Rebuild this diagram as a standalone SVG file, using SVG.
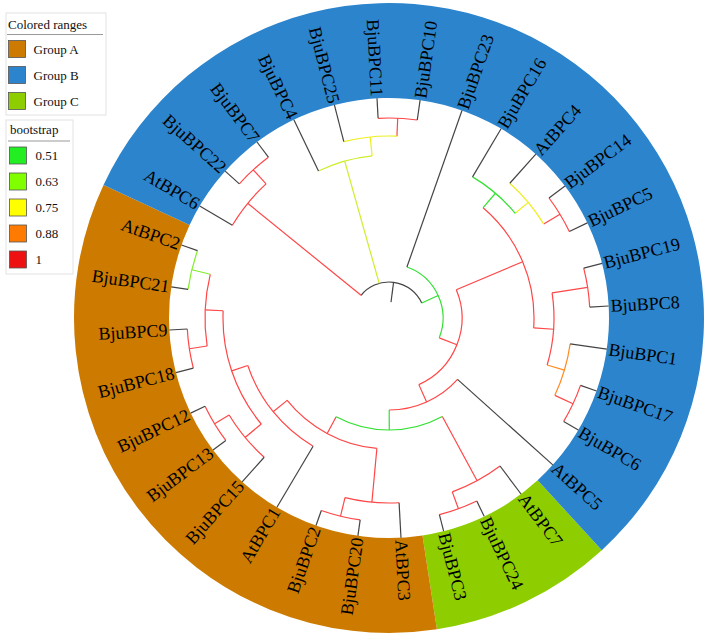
<svg xmlns="http://www.w3.org/2000/svg" width="709" height="644" viewBox="0 0 709 644">
<style>
.lbl{font-family:"Liberation Serif","Times New Roman",serif;font-size:18px;fill:#000}
.lgt{font-family:"Liberation Serif","Times New Roman",serif;font-size:13px;fill:#111}
.box{fill:#fff;stroke:#e2e2e2;stroke-width:1}
.rule{stroke:#9a9a9a;stroke-width:1}
.sw{stroke:#555;stroke-width:0.8}
#branches line,#branches path{fill:none;stroke-width:1.2}
.k{stroke:#444}
.r{stroke:#ff4646}
.o{stroke:#ff8a1f}
.y{stroke:#eeee22}
.yg{stroke:#cdee2a}
.g{stroke:#33e033}
.lg{stroke:#80ee2a}
</style>
<rect width="709" height="644" fill="#fff"/>

<g id="tree" transform="translate(389,318)">
  <!-- coloured group ranges (annulus sectors) -->
  <g id="ranges">
    <path fill="#8ece00" d="M212.811 232.242A315 315 0 0 1 47.919 311.334L33.467 217.44A220 220 0 0 0 148.63 162.201Z"/>
    <path fill="#cc7b00" d="M47.919 311.334A315 315 0 0 1 -285.487 -133.125L-199.388 -92.976A220 220 0 0 0 33.467 217.44Z"/>
    <path fill="#2b84cc" d="M-285.487 -133.125A315 315 0 1 1 212.811 232.242L148.63 162.201A220 220 0 1 0 -199.388 -92.976Z"/>
  </g>

  <g id="branches">
    <!-- root -->
    <line class="k" x1="16" x2="36" transform="rotate(277.26)"/>
    <path class="k" d="M36 0A36 36 0 0 1 -16 32.25" transform="rotate(219.06)"/>
    <!-- internal stems -->
    <line class="r" x1="36" x2="182" transform="rotate(219.06)"/>
    <line class="yg" x1="36" x2="163" transform="rotate(254.22)"/>
    <line class="g" x1="36" x2="54" transform="rotate(335.45)"/>
    <line class="r" x1="182" x2="201" transform="rotate(227.5)"/>
    <line class="y" x1="163" x2="182" transform="rotate(264.06)"/>
    <line class="r" x1="182" x2="200" transform="rotate(272.5)"/>
    <line class="r" x1="54" x2="73" transform="rotate(21.53)"/>
    <line class="r" x1="73" x2="145" transform="rotate(337.19)"/>
    <line class="r" x1="73" x2="92" transform="rotate(65.87)"/>
    <line class="g" x1="145" x2="164" transform="rotate(310.47)"/>
    <line class="y" x1="164" x2="181" transform="rotate(320.31)"/>
    <line class="r" x1="181" x2="200" transform="rotate(328.75)"/>
    <line class="r" x1="145" x2="165" transform="rotate(3.91)"/>
    <line class="r" x1="165" x2="201" transform="rotate(351.25)"/>
    <line class="o" x1="165" x2="183" transform="rotate(16.56)"/>
    <line class="r" x1="183" x2="203" transform="rotate(25)"/>
    <line class="g" x1="92" x2="112" transform="rotate(89.86)"/>
    <line class="r" x1="112" x2="185" transform="rotate(61.56)"/>
    <line class="r" x1="185" x2="203" transform="rotate(70)"/>
    <line class="r" x1="112" x2="131" transform="rotate(118.16)"/>
    <line class="r" x1="131" x2="185" transform="rotate(95.31)"/>
    <line class="r" x1="185" x2="204" transform="rotate(103.75)"/>
    <line class="r" x1="131" x2="149" transform="rotate(141.02)"/>
    <line class="r" x1="149" x2="166" transform="rotate(161.41)"/>
    <line class="r" x1="166" x2="187" transform="rotate(140.31)"/>
    <line class="r" x1="187" x2="204" transform="rotate(148.75)"/>
    <line class="r" x1="166" x2="184" transform="rotate(182.5)"/>
    <line class="r" x1="184" x2="202" transform="rotate(171.25)"/>
    <line class="lg" x1="184" x2="203" transform="rotate(193.75)"/>
    <!-- internal arcs -->
    <path class="r" d="M182 0A182 182 0 0 1 174.16 52.83" transform="rotate(210.625)"/>
    <path class="r" d="M201 0A201 201 0 0 1 197.14 39.21" transform="rotate(221.875)"/>
    <path class="yg" d="M163 0A163 163 0 0 1 153.47 54.91" transform="rotate(244.375)"/>
    <path class="y" d="M182 0A182 182 0 0 1 174.16 52.83" transform="rotate(255.625)"/>
    <path class="r" d="M200 0A200 200 0 0 1 196.16 39.02" transform="rotate(266.875)"/>
    <path class="g" d="M54 0A54 54 0 0 1 -2.03 53.96" transform="rotate(289.375)"/>
    <path class="r" d="M73 0A73 73 0 0 1 1.68 72.98" transform="rotate(337.19)"/>
    <path class="r" d="M145 0A145 145 0 0 1 86.38 116.47" transform="rotate(310.47)"/>
    <path class="g" d="M164 0A164 164 0 0 1 154.42 55.25" transform="rotate(300.625)"/>
    <path class="y" d="M181 0A181 181 0 0 1 173.21 52.54" transform="rotate(311.875)"/>
    <path class="r" d="M200 0A200 200 0 0 1 196.16 39.02" transform="rotate(323.125)"/>
    <path class="r" d="M165 0A165 165 0 0 1 149.16 70.55" transform="rotate(351.25)"/>
    <path class="r" d="M201 0A201 201 0 0 1 197.14 39.21" transform="rotate(345.625)"/>
    <path class="o" d="M183 0A183 183 0 0 1 175.12 53.12" transform="rotate(8.125)"/>
    <path class="r" d="M203 0A203 203 0 0 1 199.1 39.6" transform="rotate(19.375)"/>
    <path class="r" d="M92 0A92 92 0 0 1 61.57 68.36" transform="rotate(41.875)"/>
    <path class="g" d="M112 0A112 112 0 0 1 61.65 93.51" transform="rotate(61.5625)"/>
    <path class="r" d="M185 0A185 185 0 0 1 177.03 53.7" transform="rotate(53.125)"/>
    <path class="r" d="M203 0A203 203 0 0 1 199.1 39.6" transform="rotate(64.375)"/>
    <path class="r" d="M131 0A131 131 0 0 1 91.24 94" transform="rotate(95.3125)"/>
    <path class="r" d="M185 0A185 185 0 0 1 177.03 53.7" transform="rotate(86.875)"/>
    <path class="r" d="M204 0A204 204 0 0 1 200.08 39.8" transform="rotate(98.125)"/>
    <path class="r" d="M149 0A149 149 0 0 1 112.83 97.32" transform="rotate(120.625)"/>
    <path class="r" d="M166 0A166 166 0 0 1 123.18 111.28" transform="rotate(140.3125)"/>
    <path class="r" d="M187 0A187 187 0 0 1 178.95 54.28" transform="rotate(131.875)"/>
    <path class="r" d="M204 0A204 204 0 0 1 200.08 39.8" transform="rotate(143.125)"/>
    <path class="r" d="M184 0A184 184 0 0 1 169.99 70.41" transform="rotate(171.25)"/>
    <path class="r" d="M202 0A202 202 0 0 1 198.12 39.41" transform="rotate(165.625)"/>
    <path class="lg" d="M203 0A203 203 0 0 1 199.1 39.6" transform="rotate(188.125)"/>
    <!-- terminal branches -->
    <line class="k" x1="185" x2="220" transform="rotate(53.125)"/>
    <line class="k" x1="203" x2="220" transform="rotate(64.375)"/>
    <line class="k" x1="203" x2="220" transform="rotate(75.625)"/>
    <line class="k" x1="185" x2="220" transform="rotate(86.875)"/>
    <line class="k" x1="204" x2="220" transform="rotate(98.125)"/>
    <line class="k" x1="204" x2="220" transform="rotate(109.375)"/>
    <line class="k" x1="149" x2="220" transform="rotate(120.625)"/>
    <line class="k" x1="187" x2="220" transform="rotate(131.875)"/>
    <line class="k" x1="204" x2="220" transform="rotate(143.125)"/>
    <line class="k" x1="204" x2="220" transform="rotate(154.375)"/>
    <line class="k" x1="202" x2="220" transform="rotate(165.625)"/>
    <line class="k" x1="202" x2="220" transform="rotate(176.875)"/>
    <line class="k" x1="203" x2="220" transform="rotate(188.125)"/>
    <line class="k" x1="203" x2="220" transform="rotate(199.375)"/>
    <line class="k" x1="182" x2="220" transform="rotate(210.625)"/>
    <line class="k" x1="201" x2="220" transform="rotate(221.875)"/>
    <line class="k" x1="201" x2="220" transform="rotate(233.125)"/>
    <line class="k" x1="163" x2="220" transform="rotate(244.375)"/>
    <line class="k" x1="182" x2="220" transform="rotate(255.625)"/>
    <line class="k" x1="200" x2="220" transform="rotate(266.875)"/>
    <line class="k" x1="200" x2="220" transform="rotate(278.125)"/>
    <line class="k" x1="54" x2="220" transform="rotate(289.375)"/>
    <line class="k" x1="164" x2="220" transform="rotate(300.625)"/>
    <line class="k" x1="181" x2="220" transform="rotate(311.875)"/>
    <line class="k" x1="200" x2="220" transform="rotate(323.125)"/>
    <line class="k" x1="200" x2="220" transform="rotate(334.375)"/>
    <line class="k" x1="201" x2="220" transform="rotate(345.625)"/>
    <line class="k" x1="201" x2="220" transform="rotate(356.875)"/>
    <line class="k" x1="183" x2="220" transform="rotate(8.125)"/>
    <line class="k" x1="203" x2="220" transform="rotate(19.375)"/>
    <line class="k" x1="203" x2="220" transform="rotate(30.625)"/>
    <line class="k" x1="92" x2="220" transform="rotate(41.875)"/>
  </g>

  <!-- leaf labels -->
  <g id="AtBPC7"><text class="lbl" x="222" dy=".33em" transform="rotate(53.125)">AtBPC7</text></g>
  <g id="BjuBPC24"><text class="lbl" x="222" dy=".33em" transform="rotate(64.375)">BjuBPC24</text></g>
  <g id="BjuBPC3"><text class="lbl" x="222" dy=".33em" transform="rotate(75.625)">BjuBPC3</text></g>
  <g id="AtBPC3"><text class="lbl" x="222" dy=".33em" transform="rotate(86.875)">AtBPC3</text></g>
  <g id="BjuBPC20"><text class="lbl" x="-222" dy=".33em" text-anchor="end" transform="rotate(278.125)">BjuBPC20</text></g>
  <g id="BjuBPC2"><text class="lbl" x="-222" dy=".33em" text-anchor="end" transform="rotate(289.375)">BjuBPC2</text></g>
  <g id="AtBPC1"><text class="lbl" x="-222" dy=".33em" text-anchor="end" transform="rotate(300.625)">AtBPC1</text></g>
  <g id="BjuBPC15"><text class="lbl" x="-222" dy=".33em" text-anchor="end" transform="rotate(311.875)">BjuBPC15</text></g>
  <g id="BjuBPC13"><text class="lbl" x="-222" dy=".33em" text-anchor="end" transform="rotate(323.125)">BjuBPC13</text></g>
  <g id="BjuBPC12"><text class="lbl" x="-222" dy=".33em" text-anchor="end" transform="rotate(334.375)">BjuBPC12</text></g>
  <g id="BjuBPC18"><text class="lbl" x="-222" dy=".33em" text-anchor="end" transform="rotate(345.625)">BjuBPC18</text></g>
  <g id="BjuBPC9"><text class="lbl" x="-222" dy=".33em" text-anchor="end" transform="rotate(356.875)">BjuBPC9</text></g>
  <g id="BjuBPC21"><text class="lbl" x="-222" dy=".33em" text-anchor="end" transform="rotate(8.125)">BjuBPC21</text></g>
  <g id="AtBPC2"><text class="lbl" x="-222" dy=".33em" text-anchor="end" transform="rotate(19.375)">AtBPC2</text></g>
  <g id="AtBPC6"><text class="lbl" x="-222" dy=".33em" text-anchor="end" transform="rotate(30.625)">AtBPC6</text></g>
  <g id="BjuBPC22"><text class="lbl" x="-222" dy=".33em" text-anchor="end" transform="rotate(41.875)">BjuBPC22</text></g>
  <g id="BjuBPC7"><text class="lbl" x="-222" dy=".33em" text-anchor="end" transform="rotate(53.125)">BjuBPC7</text></g>
  <g id="BjuBPC4"><text class="lbl" x="-222" dy=".33em" text-anchor="end" transform="rotate(64.375)">BjuBPC4</text></g>
  <g id="BjuBPC25"><text class="lbl" x="-222" dy=".33em" text-anchor="end" transform="rotate(75.625)">BjuBPC25</text></g>
  <g id="BjuBPC11"><text class="lbl" x="-222" dy=".33em" text-anchor="end" transform="rotate(86.875)">BjuBPC11</text></g>
  <g id="BjuBPC10"><text class="lbl" x="222" dy=".33em" transform="rotate(278.125)">BjuBPC10</text></g>
  <g id="BjuBPC23"><text class="lbl" x="222" dy=".33em" transform="rotate(289.375)">BjuBPC23</text></g>
  <g id="BjuBPC16"><text class="lbl" x="222" dy=".33em" transform="rotate(300.625)">BjuBPC16</text></g>
  <g id="AtBPC4"><text class="lbl" x="222" dy=".33em" transform="rotate(311.875)">AtBPC4</text></g>
  <g id="BjuBPC14"><text class="lbl" x="222" dy=".33em" transform="rotate(323.125)">BjuBPC14</text></g>
  <g id="BjuBPC5"><text class="lbl" x="222" dy=".33em" transform="rotate(334.375)">BjuBPC5</text></g>
  <g id="BjuBPC19"><text class="lbl" x="222" dy=".33em" transform="rotate(345.625)">BjuBPC19</text></g>
  <g id="BjuBPC8"><text class="lbl" x="222" dy=".33em" transform="rotate(356.875)">BjuBPC8</text></g>
  <g id="BjuBPC1"><text class="lbl" x="222" dy=".33em" transform="rotate(8.125)">BjuBPC1</text></g>
  <g id="BjuBPC17"><text class="lbl" x="222" dy=".33em" transform="rotate(19.375)">BjuBPC17</text></g>
  <g id="BjuBPC6"><text class="lbl" x="222" dy=".33em" transform="rotate(30.625)">BjuBPC6</text></g>
  <g id="AtBPC5"><text class="lbl" x="222" dy=".33em" transform="rotate(41.875)">AtBPC5</text></g>
</g>

<!-- legend: coloured ranges -->
<g id="legend-ranges">
  <rect class="box" x="6" y="13" width="100" height="102"/>
  <text class="lgt" x="8" y="28.5">Colored ranges</text>
  <line class="rule" x1="7" y1="34.5" x2="103" y2="34.5"/>
  <rect class="sw" x="8.5" y="40.5" width="17" height="17" fill="#cc7b00"/>
  <text class="lgt" x="33.5" y="53.5">Group A</text>
  <rect class="sw" x="8.5" y="66.5" width="17" height="17" fill="#2b84cc"/>
  <text class="lgt" x="33.5" y="79.5">Group B</text>
  <rect class="sw" x="8.5" y="92.5" width="17" height="17" fill="#8ece00"/>
  <text class="lgt" x="33.5" y="105.5">Group C</text>
</g>

<!-- legend: bootstrap scale -->
<g id="legend-bootstrap">
  <rect class="box" x="6" y="120" width="67" height="154"/>
  <text class="lgt" x="10" y="133.5">bootstrap</text>
  <line class="rule" x1="8" y1="141" x2="70" y2="141"/>
  <rect class="sw" x="9.5" y="147" width="17" height="17" fill="#22ee22"/>
  <text class="lgt" x="35.5" y="160">0.51</text>
  <rect class="sw" x="9.5" y="173" width="17" height="17" fill="#80ff00"/>
  <text class="lgt" x="35.5" y="186">0.63</text>
  <rect class="sw" x="9.5" y="199" width="17" height="17" fill="#ffff00"/>
  <text class="lgt" x="35.5" y="212">0.75</text>
  <rect class="sw" x="9.5" y="225" width="17" height="17" fill="#ff7a00"/>
  <text class="lgt" x="35.5" y="238">0.88</text>
  <rect class="sw" x="9.5" y="251" width="17" height="17" fill="#ee1111"/>
  <text class="lgt" x="35.5" y="264">1</text>
</g>
</svg>
